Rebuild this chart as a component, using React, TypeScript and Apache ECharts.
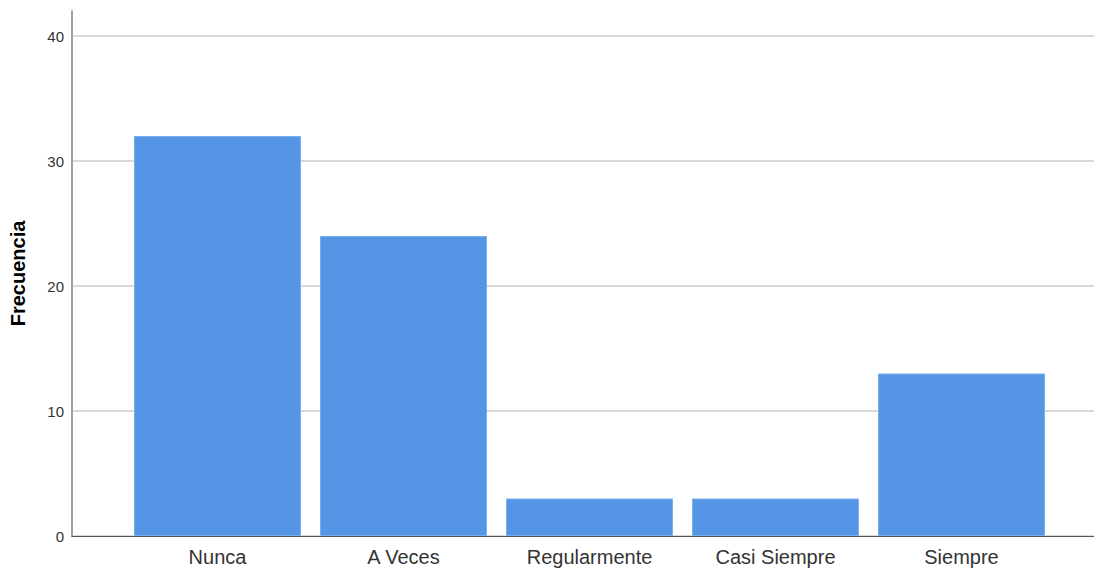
import React, { useEffect, useRef } from "react";
import * as echarts from "echarts";

const categories = ["Nunca", "A Veces", "Regularmente", "Casi Siempre", "Siempre"];
const frecuencias = [32, 24, 3, 3, 13];
const yMax = 42;
const yInterval = 10;

export default function App() {
  const ref = useRef<HTMLDivElement>(null);
  useEffect(() => {
    document.body.style.margin = "0";
    const chart = echarts.init(ref.current!, null, { renderer: "svg" });
    const font = "Arial, 'Liberation Sans', sans-serif";
    chart.setOption({
      animation: false,
      backgroundColor: "#ffffff",
      grid: [
        { left: 72, right: 0, top: 11, bottom: 33, containLabel: false, outerBoundsMode: "none" },
        { left: 124.5, right: 39.5, top: 11, bottom: 33, containLabel: false, outerBoundsMode: "none" },
      ],
      xAxis: [
        {
          gridIndex: 0,
          type: "value",
          min: 0,
          max: 1,
          axisLine: { show: true, onZero: false, lineStyle: { color: "#555555", width: 1 } },
          axisTick: { show: false },
          axisLabel: { show: false },
          splitLine: { show: false },
        },
        {
          gridIndex: 1,
          type: "category",
          data: categories,
          axisLine: { show: false },
          axisTick: { show: false },
          axisLabel: { color: "#333333", fontSize: 20, fontFamily: font, margin: 11 },
        },
      ],
      yAxis: [
        {
          gridIndex: 0,
          type: "value",
          min: 0,
          max: yMax,
          interval: yInterval,
          name: "Frecuencia",
          nameLocation: "middle",
          nameRotate: 90,
          nameGap: 44,
          nameTextStyle: { color: "#000000", fontSize: 20, fontWeight: "bold", fontFamily: font },
          axisLine: { show: true, onZero: false, lineStyle: { color: "#a0a0a0", width: 2 } },
          axisTick: { show: false },
          axisLabel: {
            color: "#333333",
            fontSize: 15,
            fontFamily: font,
            margin: 8,
            formatter: (v: number) => (v % yInterval === 0 ? String(v) : ""),
          },
          splitLine: {
            show: true,
            lineStyle: {
              color: ["#cccccc", "#cccccc", "#cccccc", "#cccccc", "#cccccc", "rgba(0,0,0,0)"],
              width: 1.5,
            },
          },
        },
        {
          gridIndex: 1,
          type: "value",
          min: 0,
          max: yMax,
          show: false,
          splitLine: { show: false },
        },
      ],
      series: [
        {
          type: "bar",
          xAxisIndex: 1,
          yAxisIndex: 1,
          data: frecuencias,
          barWidth: 167,
          itemStyle: { color: "#5595e5", borderColor: "#7aaeee", borderWidth: 1 },
          silent: true,
        },
      ],
    });
    return () => chart.dispose();
  }, []);
  return <div ref={ref} style={{ width: 1094, height: 569 }} />;
}
